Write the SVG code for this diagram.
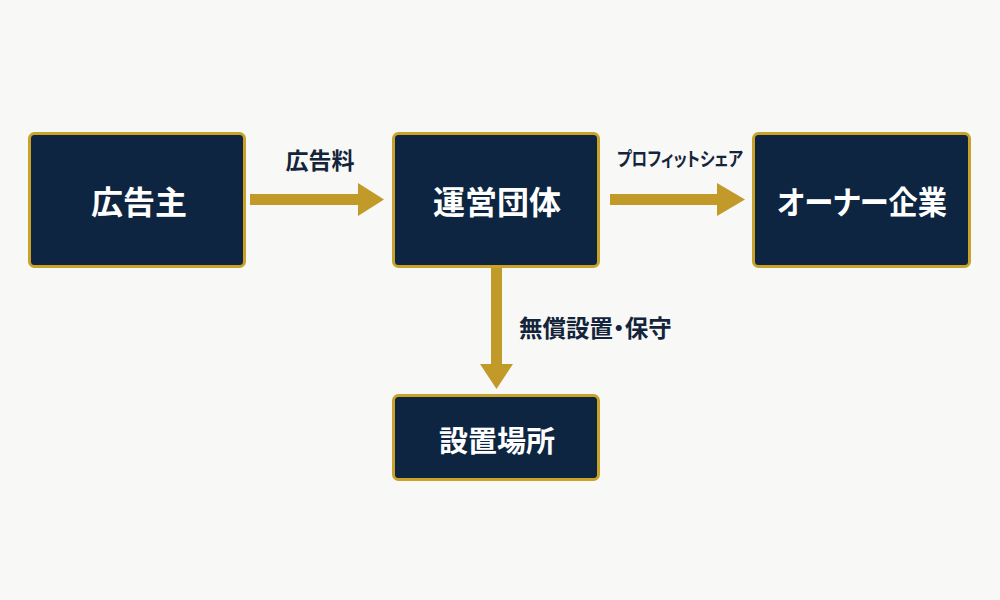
<svg xmlns="http://www.w3.org/2000/svg" width="1000" height="600" viewBox="0 0 1000 600">
<style>
.node rect{fill:#0d2540;stroke:#c9a22a;stroke-width:3}
.nt{fill:#ffffff;font-family:"Noto Sans CJK JP","Noto Sans",sans-serif;font-weight:700;font-size:32px;text-anchor:middle;dominant-baseline:central;font-feature-settings:"palt"}
.lbl{fill:#13243b;font-family:"Noto Sans CJK JP","Noto Sans",sans-serif;font-weight:700;dominant-baseline:central;font-feature-settings:"palt"}
.arr{fill:#c19a2a}
</style>
<rect width="1000" height="600" fill="#f8f8f6"/>
<g id="connectors">
<g id="c1"><rect class="arr" x="250" y="194" width="112" height="11"/><polygon class="arr" points="358,183 384,199.5 358,216"/></g>
<g id="c2"><rect class="arr" x="610" y="194" width="111" height="11"/><polygon class="arr" points="717,183 745,199.5 717,216"/></g>
<g id="c3"><rect class="arr" x="491" y="267" width="11" height="101"/><polygon class="arr" points="480,364 513,364 496.5,389"/></g>
<text class="lbl" x="320" y="159" font-size="23" text-anchor="middle">広告料</text>
<text class="lbl" x="617" y="157" font-size="19" textLength="126" lengthAdjust="spacingAndGlyphs">プロフィットシェア</text>
<text class="lbl" x="519" y="327" font-size="23.5">無償設置・保守</text>
</g>
<g id="n1" class="node"><rect x="29.5" y="133.5" width="215" height="133" rx="5"/><text class="nt" x="139" y="200">広告主</text></g>
<g id="n2" class="node"><rect x="393.5" y="133.5" width="205" height="133" rx="5"/><text class="nt" x="497" y="200">運営団体</text></g>
<g id="n3" class="node"><rect x="753.5" y="133.5" width="216" height="133" rx="5"/><text class="nt" x="777" y="200" style="text-anchor:start" textLength="170" lengthAdjust="spacingAndGlyphs">オーナー企業</text></g>
<g id="n4" class="node"><rect x="393.5" y="395.5" width="205" height="84" rx="5"/><text class="nt" x="497" y="439" style="font-size:29px">設置場所</text></g>
</svg>
